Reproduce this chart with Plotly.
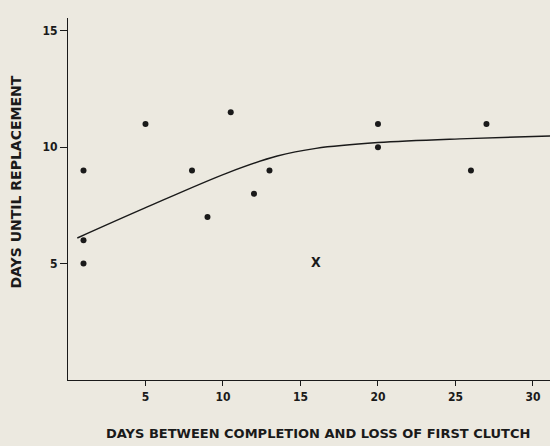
import plotly.graph_objects as go

# Observed renesting intervals
days_lost = [1, 1, 1, 5, 8, 9, 10.5, 12, 13, 20, 20, 26, 27]
days_to_replace = [9, 6, 5, 11, 9, 7, 11.5, 8, 9, 11, 10, 9, 11]

# Excluded record, shown as X
outlier_x = [16]
outlier_y = [5]

# Freehand trend curve
curve_x = [0.6, 4.9, 10.3, 13.5, 16, 20, 25.75, 31.5]
curve_y = [6.1, 7.37, 8.9, 9.62, 9.95, 10.2, 10.37, 10.49]

x_ticks = [5, 10, 15, 20, 25, 30]
y_ticks = [5, 10, 15]

bg = "#ece9e0"
ink = "#1a1a1a"
tick_font = dict(family="DejaVu Sans Condensed, Liberation Sans Narrow, sans-serif",
                 size=12, color=ink, weight="bold")

fig = go.Figure()
fig.add_trace(go.Scatter(x=curve_x, y=curve_y, mode="lines",
                         line=dict(color=ink, width=1.4, shape="spline",
                                   smoothing=1.0),
                         hoverinfo="skip", showlegend=False))
fig.add_trace(go.Scatter(x=days_lost, y=days_to_replace, mode="markers",
                         marker=dict(color=ink, size=6), showlegend=False))
fig.add_trace(go.Scatter(x=outlier_x, y=outlier_y, mode="text", text=["X"],
                         textfont=dict(family="DejaVu Sans Condensed, sans-serif",
                                       size=14, color=ink, weight="bold"),
                         showlegend=False))

fig.update_layout(
    width=550, height=446,
    margin=dict(l=67.5, r=0, t=18, b=66),
    paper_bgcolor=bg, plot_bgcolor=bg,
    xaxis=dict(range=[0, 31.1], tickvals=x_ticks, ticks="outside", ticklen=5,
               tickwidth=1, tickcolor=ink, showline=True, linecolor=ink,
               linewidth=1.2, showgrid=False, zeroline=False,
               tickfont=tick_font),
    yaxis=dict(range=[0, 15.55], tickvals=y_ticks, ticks="outside", ticklen=7,
               tickwidth=1, tickcolor=ink, showline=True, linecolor=ink,
               linewidth=1.2, showgrid=False, zeroline=False,
               tickfont=tick_font),
    annotations=[
        dict(text="DAYS BETWEEN COMPLETION AND LOSS OF FIRST CLUTCH",
             xref="paper", yref="paper", x=(318 - 67.5) / 482.5,
             y=-(433 - 380) / 362, xanchor="center", yanchor="middle",
             showarrow=False,
             font=dict(family="DejaVu Sans, sans-serif", size=13, color=ink,
                       weight="bold")),
        dict(text="DAYS UNTIL REPLACEMENT", textangle=-90,
             xref="paper", yref="paper", x=-(67.5 - 15) / 482.5,
             y=(380 - 182) / 362, xanchor="center", yanchor="middle",
             showarrow=False,
             font=dict(family="DejaVu Sans, sans-serif", size=14, color=ink,
                       weight="bold")),
    ],
)

fig.write_html("out.html")
